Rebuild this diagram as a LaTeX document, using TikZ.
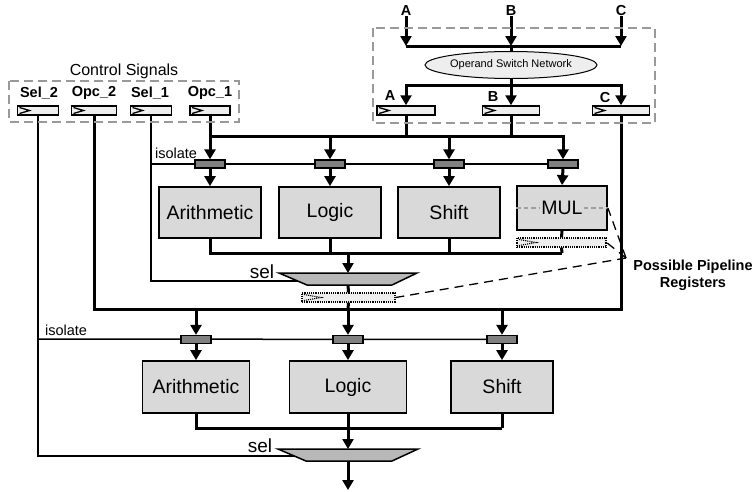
\documentclass[tikz,border=0pt]{standalone}
\usepackage{fontspec}
\setmainfont{Liberation Sans}
\usetikzlibrary{arrows.meta,shapes.geometric,calc}
\definecolor{boxgray}{HTML}{D9D9D9}
\definecolor{regfill}{HTML}{EEEEEE}
\definecolor{isofill}{HTML}{808080}
\definecolor{muxfill}{HTML}{B8B8B8}
\definecolor{framegray}{HTML}{999999}
\pgfdeclarelayer{wires}
\pgfsetlayers{wires,main}
\begin{document}
\begin{tikzpicture}[x=1pt,y=-1pt,
  thickln/.style={line width=3pt},
  thinln/.style={line width=1.5pt},
  arr/.style={-{Triangle[length=10pt,width=11pt]}},
  frame/.style={draw=framegray,line width=2pt,dash pattern=on 9pt off 5pt},
  unit/.style={draw,line width=1.8pt,fill=boxgray,inner sep=0pt,
    font=\fontsize{19.5}{22}\selectfont},
  reg/.style={draw,line width=1.5pt,fill=regfill,minimum height=9pt,inner sep=0pt,
    path picture={\draw[line width=1.3pt]
      ([shift={(2pt,-1.5pt)}]path picture bounding box.north west) --
      ([xshift=12pt]path picture bounding box.west) --
      ([shift={(2pt,1.5pt)}]path picture bounding box.south west);}},
  preg/.style={draw,line width=1.2pt,densely dotted,fill=regfill,minimum height=9pt,inner sep=0pt,
    path picture={\draw[line width=1.1pt,densely dotted]
      ([shift={(2pt,-1.5pt)}]path picture bounding box.north west) --
      ([xshift=19pt]path picture bounding box.west) --
      ([shift={(2pt,1.5pt)}]path picture bounding box.south west);}},
  isoreg/.style={draw,line width=1.3pt,fill=isofill,minimum width=30pt,minimum height=8pt,inner sep=0pt},
  muxst/.style={draw,line width=1.5pt,fill=muxfill},
  sig/.style={font=\fontsize{14.5}{17}\selectfont\bfseries,inner sep=0pt},
  lbl/.style={font=\fontsize{16}{19}\selectfont,inner sep=0pt},
  small/.style={font=\fontsize{14.5}{17}\selectfont,inner sep=0pt},
  selt/.style={font=\fontsize{19}{22}\selectfont,inner sep=0pt},
  annot/.style={line width=1.3pt,dash pattern=on 9pt off 6pt}
]
\useasboundingbox (0,0) rectangle (755,491);

% ---------- control signal registers ----------
\draw[frame] (9,81) rectangle (239,122);
\node[lbl] (ctltitle) at (124,71) {Control Signals};
\node[sig] (lsel2) at (39,93) {Sel\_2};
\node[sig] (lopc2) at (94,93) {Opc\_2};
\node[sig] (lsel1) at (150,93) {Sel\_1};
\node[sig] (lopc1) at (210,93) {Opc\_1};
\node[reg,minimum width=41pt] (sel2) at (38,110.5) {};
\node[reg,minimum width=45pt] (opc2) at (94,110.5) {};
\node[reg,minimum width=41pt] (sel1) at (151,110.5) {};
\node[reg,minimum width=40pt] (opc1) at (210,110.5) {};

% ---------- operand switch network ----------
\draw[frame] (373,28) rectangle (655,123);
\node[sig] (inA) at (406,11) {A};
\node[sig] (inB) at (511,11) {B};
\node[sig] (inC) at (621,11) {C};
\node[ellipse,draw,line width=1pt,fill=regfill,minimum width=168pt,minimum height=27pt,
  inner sep=0pt,font=\fontsize{11}{13}\selectfont] (osn) at (511,65) {Operand Switch Network};
\node[sig] (lA) at (390,96) {A};
\node[sig] (lB) at (493,97) {B};
\node[sig] (lC) at (605,98) {C};
\node[reg,minimum width=58pt] (regA) at (406,110.5) {};
\node[reg,minimum width=57pt] (regB) at (511,110.5) {};
\node[reg,minimum width=57pt] (regC) at (621,110.5) {};

% ---------- first functional stage ----------
\node[small] (iso1lbl) at (176,153) {isolate};
\node[isoreg] (iso11) at (210,164) {};
\node[isoreg] (iso12) at (330,164) {};
\node[isoreg] (iso13) at (449,164) {};
\node[isoreg] (iso14) at (563,164) {};
\node[unit,minimum width=102pt,minimum height=51pt] (arith1) at (210,212.5) {Arithmetic};
\node[unit,minimum width=102pt,minimum height=51pt] (logic1) at (330,212.5) {Logic};
\node[unit,minimum width=102pt,minimum height=51pt] (shift1) at (449,212.5) {Shift};
\node[unit,minimum width=90pt,minimum height=44pt] (mul) at (562,208) {};
\node[inner sep=1pt,font=\fontsize{19.5}{22}\selectfont] (multxt) at (562,208) {MUL};
\draw[gray!75,line width=2pt,dash pattern=on 4.5pt off 3pt] (mul.west) -- (multxt.west);
\draw[gray!75,line width=2pt,dash pattern=on 4.5pt off 3pt] (multxt.east) -- (mul.east);
\node[preg,minimum width=89pt] (preg1) at (561.5,242.5) {};

\coordinate (mux1) at (348,273);
\coordinate (mux1out) at (348,285);
\coordinate (mux1sel) at (298,281);
\draw[muxst] ($(mux1)+(-69,0)$) -- ($(mux1)+(69,0)$) -- ($(mux1)+(44,12)$) -- ($(mux1)+(-41,12)$) -- cycle;
\node[selt] (sel1lbl) at (262,272) {sel};
\node[preg,minimum width=93pt] (preg2) at (348.5,297.5) {};

% ---------- second functional stage ----------
\node[small] (iso2lbl) at (66,330) {isolate};
\node[isoreg] (iso21) at (196,339.5) {};
\node[isoreg] (iso22) at (348,339.5) {};
\node[isoreg] (iso23) at (502,339.5) {};
\node[unit,minimum width=107pt,minimum height=52pt] (arith2) at (196,387) {Arithmetic};
\node[unit,minimum width=117pt,minimum height=52pt] (logic2) at (348,387) {Logic};
\node[unit,minimum width=102pt,minimum height=52pt] (shift2) at (502,387) {Shift};

\coordinate (mux2) at (348,449);
\coordinate (mux2out) at (348,461);
\coordinate (mux2sel) at (294,456);
\draw[muxst] ($(mux2)+(-70,0)$) -- ($(mux2)+(70,0)$) -- ($(mux2)+(44,12)$) -- ($(mux2)+(-42,12)$) -- cycle;
\node[selt] (sel2lbl) at (260,446) {sel};
\coordinate (result) at (348,490);

% ---------- pipeline register annotation ----------
\node[font=\fontsize{14.5}{17}\selectfont\bfseries,align=center,inner sep=0pt] (pplbl) at (693,275)
  {Possible Pipeline\\Registers};
\coordinate (pp) at (626,258);
\draw[annot] (pp) -- (mul.east);
\draw[annot] (pp) -- (preg1.east);
\draw[annot] (pp) -- (preg2.east);

% ---------- wiring ----------
\coordinate (t1) at (406,46);
\coordinate (t2) at (511,46);
\coordinate (t3) at (621,46);
\coordinate (u2) at (511,85);
\coordinate (j11) at (210,136);
\coordinate (j12) at (330,136);
\coordinate (j13) at (449,136);
\coordinate (j14) at (563,136);
\coordinate (jA) at (406,136);
\coordinate (jB) at (511,136);
\coordinate (k1) at (151,164);
\coordinate (o12) at (330,253);
\coordinate (o13) at (449,253);
\coordinate (o14) at (562,253);
\coordinate (o1m) at (348,253);
\coordinate (q1) at (196,309);
\coordinate (q2) at (348,309);
\coordinate (q3b) at (502,309);
\coordinate (q3) at (621,309);
\coordinate (k2) at (38,339);
\coordinate (r2) at (348,428);
\coordinate (r3) at (502,428);

\begin{pgfonlayer}{wires}
  % operand inputs and switch network
  \draw[thickln,arr] (inA.south) -- (t1);
  \draw[thickln,arr] (inB.south) -- (t2);
  \draw[thickln,arr] (inC.south) -- (t3);
  \draw[thickln] (t1) -- (t3);
  \draw[thickln] (t2) -- (osn.north);
  \draw[thickln,arr] (u2) -| (regA.north);
  \draw[thickln,arr] (u2) -| (regC.north);
  \draw[thickln,arr] (osn.south) -- (regB.north);
  % first stage operand bus
  \draw[thickln,arr] (opc1.south) -- (iso11.north);
  \draw[thickln,arr] (j11) -- (j14) -- (iso14.north);
  \draw[thickln,arr] (j12) -- (iso12.north);
  \draw[thickln,arr] (j13) -- (iso13.north);
  \draw[thickln] (regA.south) -- (jA);
  \draw[thickln] (regB.south) -- (jB);
  \draw[thinln] (k1) -- (iso14.center);
  \draw[thickln,arr] (iso11.south) -- (arith1.north);
  \draw[thickln,arr] (iso12.south) -- (logic1.north);
  \draw[thickln,arr] (iso13.south) -- (shift1.north);
  \draw[thickln,arr] (iso14.south) -- (mul.north);
  % first stage results
  \draw[thickln] (arith1.south) |- (o14);
  \draw[thickln] (logic1.south) -- (o12);
  \draw[thickln] (shift1.south) -- (o13);
  \draw[thickln] (mul.south) -- (preg1.north);
  \draw[thickln] (preg1.south) -- (o14);
  \draw[thickln,arr] (o1m) -- (mux1);
  \draw[thinln] (sel1.south) |- (mux1sel);
  \draw[thickln] (mux1out) -- (preg2.north);
  \draw[thickln] (preg2.south) -- (q2);
  % second stage operand bus
  \draw[thickln] (opc2.south) |- (q3) -- (regC.south);
  \draw[thickln,arr] (q1) -- (iso21.north);
  \draw[thickln,arr] (q2) -- (iso22.north);
  \draw[thickln,arr] (q3b) -- (iso23.north);
  \draw[thinln] (k2) -- (iso23.center);
  \draw[thickln,arr] (iso21.south) -- (arith2.north);
  \draw[thickln,arr] (iso22.south) -- (logic2.north);
  \draw[thickln,arr] (iso23.south) -- (shift2.north);
  % second stage results
  \draw[thickln] (arith2.south) |- (r3);
  \draw[thickln] (shift2.south) -- (r3);
  \draw[thickln] (logic2.south) -- (r2);
  \draw[thickln,arr] (r2) -- (mux2);
  \draw[thinln] (sel2.south) |- (mux2sel);
  \draw[thickln,arr] (mux2out) -- (result);
\end{pgfonlayer}
\end{tikzpicture}
\end{document}
